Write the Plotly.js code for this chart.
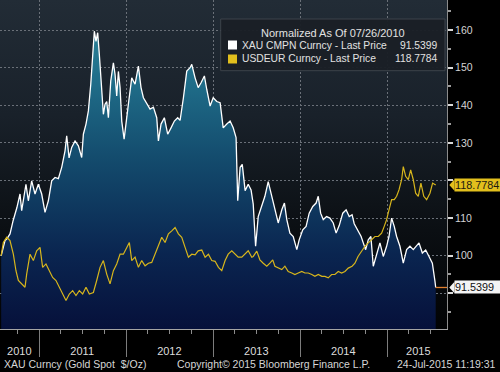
<!DOCTYPE html>
<html><head><meta charset="utf-8">
<script src="https://cdn.plot.ly/plotly-3.0.1.min.js"></script>
<style>
html,body{margin:0;padding:0;background:#000;width:500px;height:372px;overflow:hidden}
#bg{position:absolute;left:0;top:0;width:447px;height:329px;background:linear-gradient(to bottom,#222c36 0%,#19212a 35%,#0b0f13 70%,#020304 100%)}
#chart{position:absolute;left:0;top:0;width:500px;height:372px}
</style></head><body>
<div id="bg"></div><div id="chart"></div>
<script>
// ---- data (normalized to 100 on 07/26/2010) ----
const goldName = 'XAU CMPN Curncy - Last Price';
const usdName = 'USDEUR Curncy - Last Price';
const legendTitle = 'Normalized As Of 07/26/2010';

const goldDates = [
'2010-07-26','2010-07-31','2010-08-11','2010-08-19','2010-09-01','2010-09-14','2010-09-30','2010-10-13','2010-10-20','2010-11-07','2010-11-17','2010-12-01','2010-12-15','2010-12-29',
'2011-01-12','2011-01-26','2011-02-09','2011-02-23','2011-03-09','2011-03-23','2011-04-06','2011-04-20','2011-04-27','2011-05-07','2011-05-18','2011-06-01','2011-06-15','2011-06-29','2011-07-06','2011-07-17','2011-07-27','2011-08-06','2011-08-14','2011-08-21','2011-08-28','2011-09-04','2011-09-11','2011-09-21','2011-09-28','2011-10-05','2011-10-12','2011-10-19','2011-10-29','2011-11-09','2011-11-16','2011-11-23','2011-11-30','2011-12-07','2011-12-14','2011-12-24',
'2012-01-01','2012-01-11','2012-01-25','2012-02-08','2012-02-22','2012-03-04','2012-03-14','2012-03-28','2012-04-11','2012-04-25','2012-05-09','2012-05-16','2012-05-27','2012-06-10','2012-06-24','2012-07-08','2012-07-22','2012-08-05','2012-08-15','2012-08-29','2012-09-12','2012-09-26','2012-10-03','2012-10-17','2012-10-30','2012-11-11','2012-11-25','2012-12-05','2012-12-19',
'2013-01-01','2013-01-16','2013-01-30','2013-02-12','2013-02-27','2013-03-13','2013-03-26','2013-04-07','2013-04-14','2013-04-24','2013-05-03','2013-05-15','2013-05-28','2013-06-09','2013-06-18','2013-06-23','2013-06-28','2013-07-09','2013-07-24','2013-08-06','2013-08-20','2013-09-04','2013-09-17','2013-10-01','2013-10-16','2013-10-27','2013-11-06','2013-11-19','2013-12-03','2013-12-18','2013-12-28',
'2014-01-12','2014-01-26','2014-02-08','2014-02-23','2014-03-09','2014-03-18','2014-03-28','2014-04-08','2014-04-22','2014-05-06','2014-05-20','2014-06-01','2014-06-14','2014-06-29','2014-07-13','2014-07-26','2014-08-07','2014-08-16','2014-08-31','2014-09-14','2014-09-23','2014-10-03','2014-10-14','2014-10-25','2014-11-04','2014-11-18','2014-12-02','2014-12-16','2014-12-30',
'2015-01-09','2015-01-20','2015-01-31','2015-02-10','2015-02-24','2015-03-10','2015-03-24','2015-04-07','2015-04-21','2015-05-05','2015-05-15','2015-05-29','2015-06-12','2015-06-26','2015-07-10','2015-07-21','2015-07-24'];
const goldValues = [
100.0,101.5,104.0,104.5,105.8,109.3,112.8,116.4,112.0,119.0,114.6,119.9,116.4,119.0,
116.4,111.5,114.6,119.9,120.8,120.5,123.5,127.9,131.9,126.0,128.8,130.5,129.2,126.1,132.3,135.0,138.5,145.6,153.5,159.7,157.0,159.3,153.5,144.7,137.6,140.3,141.0,136.7,146.5,151.3,148.2,142.5,149.0,144.7,135.8,131.0,
136.0,140.3,147.3,145.6,150.4,144.7,142.0,140.3,139.0,139.5,136.7,130.5,135.0,136.7,132.3,134.0,135.8,136.7,136.0,142.0,149.1,150.0,150.9,147.3,144.7,146.0,147.8,144.2,139.8,
142.0,141.0,140.7,134.0,135.0,135.8,134.0,131.4,114.6,123.5,124.3,117.3,119.0,117.5,113.7,108.0,102.5,110.4,113.0,115.8,119.7,115.8,113.0,108.7,112.2,114.0,109.6,106.0,105.1,101.6,104.2,
106.9,107.8,111.3,113.1,114.0,115.8,111.3,109.6,110.4,110.0,108.7,106.0,108.0,111.3,112.2,110.4,110.9,108.5,106.9,105.1,103.4,101.6,104.2,105.1,97.2,100.7,103.4,99.8,102.5,
105.1,110.0,107.8,105.1,102.5,98.0,101.6,102.5,101.6,102.5,103.4,100.7,101.5,99.8,98.0,93.2,91.5399];

const usdDates = [
'2010-07-26','2010-08-04','2010-08-18','2010-09-01','2010-09-15','2010-09-26','2010-10-06','2010-10-20','2010-11-03','2010-11-10','2010-11-24','2010-12-08','2010-12-22',
'2011-01-05','2011-01-16','2011-01-30','2011-02-13','2011-02-27','2011-03-13','2011-03-27','2011-04-10','2011-04-24','2011-05-08','2011-05-22','2011-06-05','2011-06-19','2011-07-03','2011-07-17','2011-07-31','2011-08-17','2011-08-31','2011-09-14','2011-09-28','2011-10-12','2011-10-26','2011-11-09','2011-11-23','2011-12-07','2011-12-21',
'2012-01-04','2012-01-15','2012-01-25','2012-02-08','2012-02-22','2012-03-07','2012-03-21','2012-04-04','2012-04-18','2012-05-02','2012-05-16','2012-05-30','2012-06-13','2012-06-27','2012-07-11','2012-07-25','2012-08-08','2012-08-22','2012-09-05','2012-09-19','2012-10-03','2012-10-17','2012-10-30','2012-11-14','2012-11-28','2012-12-12','2012-12-26',
'2013-01-09','2013-01-23','2013-02-06','2013-02-20','2013-03-05','2013-03-20','2013-04-03','2013-04-16','2013-05-01','2013-05-15','2013-05-28','2013-06-12','2013-06-18','2013-07-03','2013-07-16','2013-07-30','2013-08-14','2013-08-27','2013-09-08','2013-09-17','2013-10-01','2013-10-16','2013-10-29','2013-11-12','2013-11-27','2013-12-10','2013-12-24',
'2014-01-08','2014-01-21','2014-02-04','2014-02-19','2014-03-04','2014-03-18','2014-04-02','2014-04-15','2014-04-29','2014-05-13','2014-05-27','2014-06-10','2014-06-24','2014-07-08','2014-07-22','2014-08-07','2014-08-19','2014-09-01','2014-09-16','2014-09-30','2014-10-14','2014-10-28','2014-11-11','2014-11-25','2014-12-09','2014-12-20','2014-12-30',
'2015-01-09','2015-01-20','2015-01-31','2015-02-10','2015-02-20','2015-03-03','2015-03-10','2015-03-20','2015-03-31','2015-04-10','2015-04-21','2015-05-01','2015-05-12','2015-05-23','2015-06-04','2015-06-16','2015-06-30','2015-07-11','2015-07-24'];
const usdValues = [
100.0,103.5,104.9,104.0,100.4,96.0,93.4,92.5,91.6,95.1,100.4,98.7,101.3,
102.2,96.9,97.8,96.0,94.2,93.4,91.6,89.8,88.1,89.8,90.7,89.4,90.7,89.8,91.6,89.8,90.2,93.4,96.9,98.7,95.1,92.5,96.0,97.8,100.4,100.4,
102.2,103.5,98.7,99.6,96.9,98.7,97.3,98.0,98.2,100.4,103.1,104.9,103.5,105.8,106.6,107.5,105.8,104.9,102.2,99.6,100.4,100.2,101.3,101.5,99.6,100.4,98.7,
98.5,96.9,96.0,98.7,100.4,101.3,100.4,99.6,99.6,100.4,101.3,99.6,99.8,101.2,98.9,98.0,97.2,98.0,98.9,97.2,96.7,96.3,97.2,95.8,95.4,95.0,95.4,
95.8,95.4,95.4,95.0,94.5,95.0,94.5,94.5,94.1,95.0,95.0,95.8,95.4,95.8,96.7,97.2,98.0,99.8,101.2,102.5,103.4,104.2,105.1,105.1,106.0,107.8,109.6,
112.2,114.9,114.9,115.8,117.5,120.2,123.7,121.1,120.2,122.8,120.2,116.6,115.8,119.3,115.8,114.9,116.6,119.3,118.7784];

const yearLabels = ['2010','2011','2012','2013','2014','2015'];
const yearLabelDates = ['2010-10-10','2011-07-01','2012-07-01','2013-07-01','2014-07-01','2015-05-12'];
// right-axis labels; 120 and 90 sit under the last-price boxes, as in the original
const yTickVals = [90,100,110,120,130,140,150,160];
const yTickText = ['','100','110','','130','140','150','160'];
const footerLeft = 'XAU Curncy (Gold Spot  $/Oz)';
const footerMid = 'Copyright\u00A9 2015 Bloomberg Finance L.P.';
const footerRight = '24-Jul-2015 11:19:31';

// ---- styling / layout ----
const FONT = '"Liberation Sans", Arial, sans-serif';
const xRange = ['2010-07-21', '2015-09-09 12:00'];
const yRange = [80.5, 168];
const GOLD_LINE = '#ffffff';
const USD_LINE = '#d8b61c';
const USD_BOX = '#e2bf1d';

const lastGold = goldValues[goldValues.length - 1];
const lastUsd = usdValues[usdValues.length - 1];
const lastGoldDate = goldDates[goldDates.length - 1];
const toPaperY = v => (v - yRange[0]) / (yRange[1] - yRange[0]);
const PW = 447, PH = 329;
const px = p => p / PW;            // pixel -> paper x
const py = p => (PH - p) / PH;     // pixel -> paper y

const traces = [
  {type:'scatter', mode:'lines', x:goldDates, y:goldValues, name:goldName,
   fill:'tozeroy',
   fillgradient:{type:'vertical', start:80, stop:162,
     colorscale:[[0,'#06103a'],[0.25,'#0a2550'],[0.55,'#134a6c'],[0.8,'#1f6c88'],[1,'#2c8399']]},
   line:{color:GOLD_LINE, width:1.3}, hoverinfo:'skip'},
  {type:'scatter', mode:'lines', x:usdDates, y:usdValues, name:usdName, xaxis:'x2',
   line:{color:USD_LINE, width:1.2}, hoverinfo:'skip'}
];

const txt = (text, x, y, opts) => Object.assign({text, x, y, xref:'paper', yref:'paper',
  showarrow:false, xanchor:'left', yanchor:'middle', font:{family:FONT, size:11, color:'#e2e2e2'}}, opts || {});
const rowFont = {family:FONT, size:10.3, color:'#e2e2e2'};

const annotations = [
  txt(legendTitle, px(332.6), py(33), {xanchor:'center'}),
  txt(goldName, px(240), py(45), {font:rowFont}),
  txt(lastGold.toFixed(4), px(439), py(45), {xanchor:'right', font:rowFont}),
  txt(usdName, px(240), py(58.8), {font:rowFont}),
  txt(lastUsd.toFixed(4), px(439), py(58.8), {xanchor:'right', font:rowFont}),
  // last-price boxes on the axis
  {text:lastUsd.toFixed(4), x:px(454), y:lastUsd, xref:'paper', yref:'y', showarrow:false,
   xanchor:'left', yanchor:'middle', bgcolor:USD_BOX, borderpad:0,
   font:{family:FONT, size:10.8, color:'#1c1a10'}, width:46, align:'left'},
  {text:lastGold.toFixed(4), x:px(454), y:lastGold, xref:'paper', yref:'y', showarrow:false,
   xanchor:'left', yanchor:'middle', bgcolor:'#f4f4f4', borderpad:0,
   font:{family:FONT, size:10.8, color:'#111111'}, width:46, align:'left'},
  // footer
  txt(footerLeft, px(2), py(364), {font:{family:FONT, size:10.5, color:'#d6d6d6'}}),
  txt(footerMid, px(175), py(364), {font:{family:FONT, size:10.5, color:'#d6d6d6'}}),
  txt(footerRight, px(498), py(364), {xanchor:'right', font:{family:FONT, size:10.5, color:'#d6d6d6'}})
];

const tri = (v, color) => ({type:'path', xref:'paper', yref:'paper', layer:'above',
  path:`M ${px(449.3)},${toPaperY(v)} L ${px(454.5)},${toPaperY(v)+5.7/PH} L ${px(454.5)},${toPaperY(v)-5.7/PH} Z`,
  fillcolor:color, line:{width:0}});

const shapes = [
  {type:'line', xref:'x', yref:'y', x0:lastGoldDate, x1:xRange[1], y0:lastGold, y1:lastGold,
   line:{color:'#e2802e', width:1.3}},
  {type:'rect', xref:'paper', yref:'paper', x0:px(220.7), x1:px(445), y0:py(70.7), y1:py(19),
   fillcolor:'rgba(26,31,37,0.96)', line:{color:'#3d434a', width:1}, layer:'above'},
  {type:'rect', xref:'paper', yref:'paper', x0:px(228), x1:px(237), y0:py(49.5), y1:py(40.5),
   fillcolor:GOLD_LINE, line:{width:0}, layer:'above'},
  {type:'rect', xref:'paper', yref:'paper', x0:px(228), x1:px(237), y0:py(63.5), y1:py(54.5),
   fillcolor:USD_BOX, line:{width:0}, layer:'above'},
  tri(lastUsd, USD_BOX),
  tri(lastGold, '#f4f4f4')
];

const layout = {
  width:500, height:372, margin:{l:0, r:53, t:0, b:43, pad:0},
  paper_bgcolor:'rgba(0,0,0,0)', plot_bgcolor:'rgba(0,0,0,0)',
  showlegend:false, font:{family:FONT, color:'#d4d4d4', size:11},
  xaxis:{type:'date', range:xRange, tickmode:'linear', tick0:'2011-01-01', dtick:'M12',
    showticklabels:false, ticks:'outside', ticklen:27, tickcolor:'#7c7c7c', tickwidth:1,
    showgrid:true, gridcolor:'#6a7078', griddash:'2px,2px', gridwidth:1,
    showline:true, linecolor:'#a4a4a4', linewidth:1, zeroline:false, fixedrange:true,
    minor:{tick0:'2010-01-01', dtick:'M3', ticks:'outside', ticklen:4, tickcolor:'#8c8c8c', showgrid:false}},
  xaxis2:{type:'date', range:xRange, overlaying:'x', anchor:'y', side:'bottom',
    tickmode:'array', tickvals:yearLabelDates, ticktext:yearLabels,
    ticks:'outside', ticklen:12, tickcolor:'rgba(0,0,0,0)', showgrid:false, showline:false,
    zeroline:false, fixedrange:true, tickfont:{family:FONT, size:11, color:'#dcdcdc'}},
  yaxis:{side:'right', range:yRange, tickmode:'array', tickvals:yTickVals, ticktext:yTickText,
    ticks:'outside', ticklen:5, tickwidth:2, tickcolor:'#d8d8d8',
    showgrid:true, gridcolor:'#6a7078', griddash:'2px,2px', gridwidth:1,
    showline:true, linecolor:'#8c8c8c', linewidth:1, zeroline:false, fixedrange:true,
    tickfont:{family:FONT, size:10.5, color:'#d4d4d4'},
    minor:{tickmode:'linear', tick0:0, dtick:5, ticks:'outside', ticklen:3, tickcolor:'#9c9c9c', showgrid:false}},
  shapes, annotations
};

Plotly.newPlot('chart', traces, layout, {staticPlot:true, displayModeBar:false});
</script>
</body></html>
